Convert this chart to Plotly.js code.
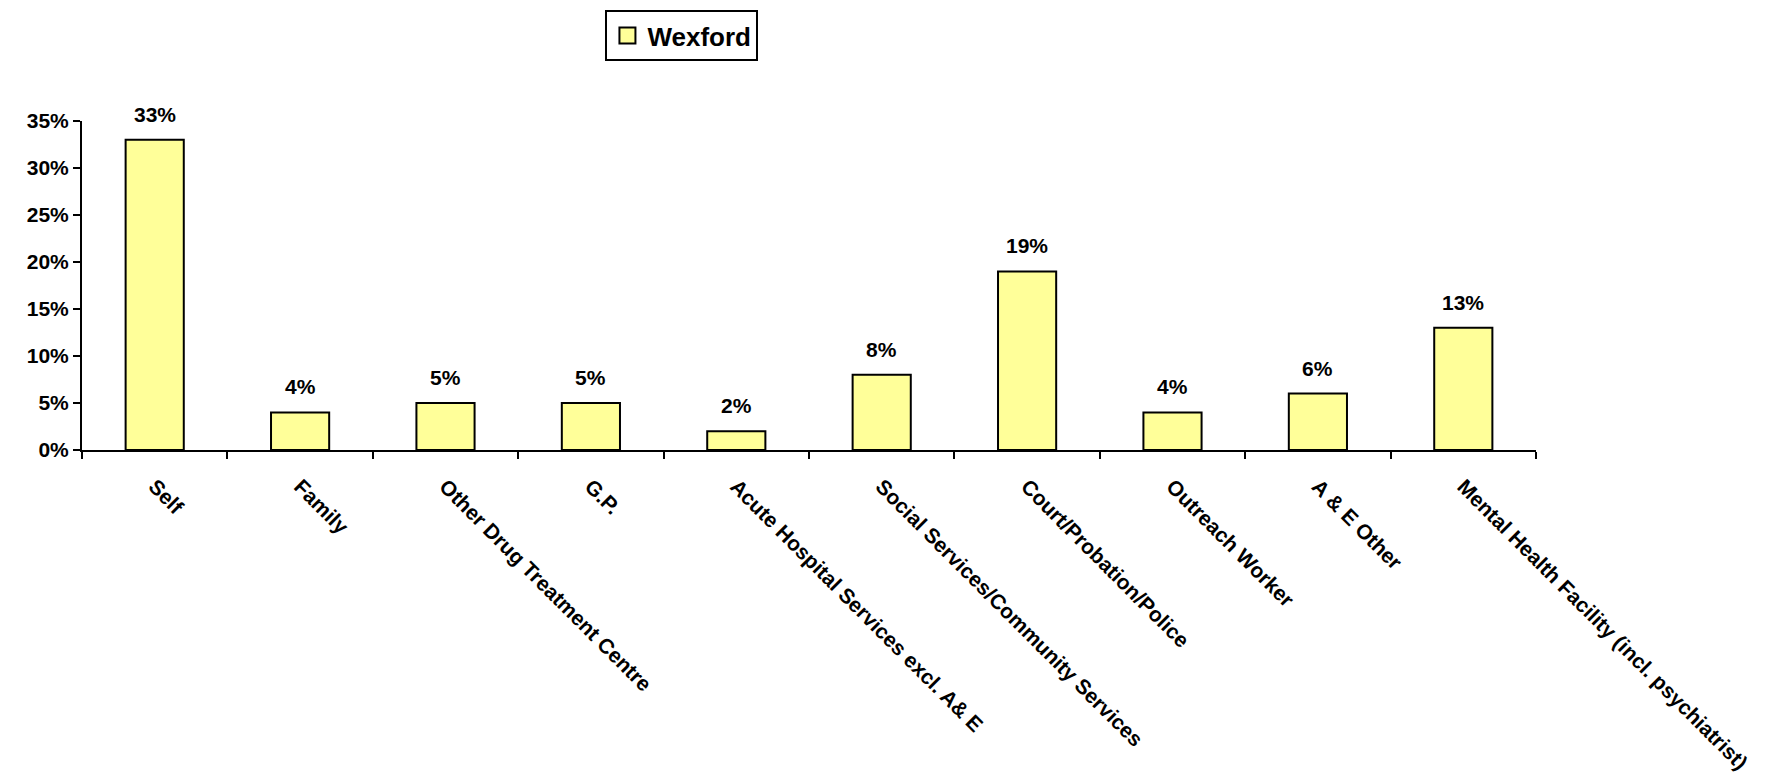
<!DOCTYPE html>
<html>
<head>
<meta charset="utf-8">
<script src="https://cdn.plot.ly/plotly-3.0.1.min.js"></script>
<style>html,body{margin:0;padding:0;background:#fff;}#chart{width:1767px;height:774px;}</style>
</head>
<body>
<div id="chart"></div>
<script>
const categories = ["Self", "Family", "Other Drug Treatment Centre", "G.P.", "Acute Hospital Services excl. A& E", "Social Services/Community Services", "Court/Probation/Police", "Outreach Worker", "A & E Other", "Mental Health Facility (incl. psychiatrist)"];
const wexford = [33, 4, 5, 5, 2, 8, 19, 4, 6, 13];
const yTicks = [0, 5, 10, 15, 20, 25, 30, 35];

const font = "Liberation Sans, Arial, sans-serif";
const barTrace = {
  type: "bar",
  name: "Wexford",
  x: categories,
  y: wexford,
  marker: {color: "#FFFF99", line: {color: "#000", width: 2}},
  showlegend: false,
  hoverinfo: "none"
};
const legendTrace = {
  type: "scatter", mode: "markers",
  name: "<b>Wexford</b>",
  x: [null], y: [null],
  marker: {symbol: "square", size: 18, color: "#FFFF99", line: {color: "#000", width: 2}},
  showlegend: true, hoverinfo: "none"
};
const annotations = categories.map((c, i) => ({
  x: c, y: wexford[i], xref: "x", yref: "y",
  text: "<b>" + wexford[i] + "%</b>",
  showarrow: false, yanchor: "bottom", yshift: 12,
  font: {family: font, size: 21, color: "#000"}
}));
const layout = {
  width: 1767, height: 774,
  margin: {l: 82, r: 231, t: 120, b: 324},
  paper_bgcolor: "#fff", plot_bgcolor: "#fff",
  bargap: 0.6,
  showlegend: true,
  annotations: annotations,
  legend: {x: 0.36, y: 1.333, xanchor: "left", yanchor: "top",
    bordercolor: "#000", borderwidth: 2, bgcolor: "#fff",
    itemwidth: 30, tracegroupgap: 0,
    font: {family: font, size: 26, color: "#000"}},
  xaxis: {type: "category", automargin: false, tickangle: 45,
    showline: true, linecolor: "#000", linewidth: 2,
    ticks: "outside", tickson: "boundaries", ticklen: 7, tickwidth: 2, tickcolor: "#000",
    ticklabelstandoff: 14,
    tickfont: {family: font, size: 21, color: "#000", weight: "bold"},
    showgrid: false, zeroline: false},
  yaxis: {range: [0, 35], automargin: false, tickvals: yTicks,
    ticktext: yTicks.map(v => "<b>" + v + "%</b>"),
    showline: true, linecolor: "#000", linewidth: 2,
    ticks: "outside", ticklen: 7, tickwidth: 2, tickcolor: "#000",
    tickfont: {family: font, size: 21, color: "#000"},
    showgrid: false, zeroline: false}
};
Plotly.newPlot("chart", [barTrace, legendTrace], layout, {displayModeBar: false, staticPlot: true});
</script>
</body>
</html>
